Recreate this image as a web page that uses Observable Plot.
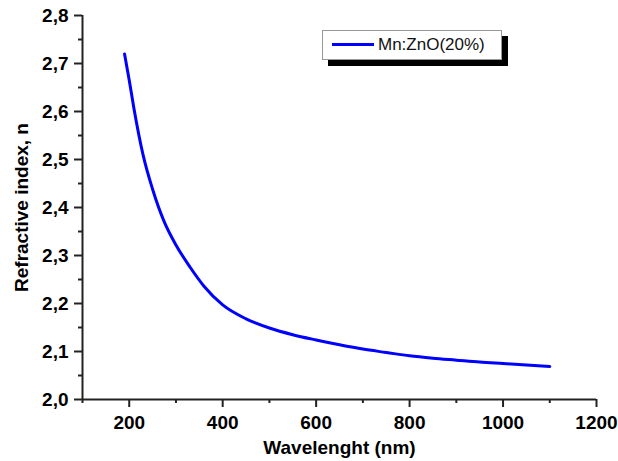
<!DOCTYPE html>
<html>
<head>
<meta charset="utf-8">
<script src="https://cdn.jsdelivr.net/npm/d3@7"></script>
<script src="https://cdn.jsdelivr.net/npm/@observablehq/plot@0.6"></script>
<style>
  html, body { margin: 0; padding: 0; background: #fff; }
  #wrap { position: relative; width: 618px; height: 461px; }
  .legend { position: absolute; left: 322px; top: 30px; width: 178px; height: 28px;
    background: #fff; border: 1px solid #999; box-shadow: 6px 6px 0 #000;
    font-family: "Liberation Sans", Arial, sans-serif; font-size: 17px; color: #111; }
  .legend .sw { position: absolute; left: 9px; top: 12px; width: 42px; height: 3px; background: #0000ff; }
  .legend .lb { position: absolute; left: 55px; top: 4px; }
</style>
</head>
<body>
<div id="wrap"></div>
<script>
const wavelength = [190, 200, 210, 230, 250, 275, 300, 330, 360, 400, 450, 500, 550, 600, 650, 700, 750, 800, 850, 900, 950, 1000, 1050, 1100];
const refractiveIndex = [2.72, 2.665, 2.607, 2.508, 2.438, 2.37, 2.322, 2.276, 2.236, 2.197, 2.168, 2.149, 2.135, 2.124, 2.114, 2.105, 2.098, 2.091, 2.086, 2.082, 2.078, 2.075, 2.072, 2.069];
const seriesName = "Mn:ZnO(20%)";
const xMajor = [200, 400, 600, 800, 1000, 1200];
const xMinor = [100, 300, 500, 700, 900, 1100];
const yMajor = [2.0, 2.1, 2.2, 2.3, 2.4, 2.5, 2.6, 2.7, 2.8];
const yMinor = [2.05, 2.15, 2.25, 2.35, 2.45, 2.55, 2.65, 2.75];

const data = wavelength.map((w, i) => ({w, n: refractiveIndex[i]}));
const axisColor = "#222";
const fmtY = d => d.toFixed(1).replace(".", ",");

const chart = Plot.plot({
  width: 618,
  height: 461,
  marginLeft: 82,
  marginRight: 22,
  marginTop: 15,
  marginBottom: 62,
  style: {fontFamily: "'Liberation Sans', Arial, sans-serif", fontSize: "18px", fontWeight: "bold", color: "#000", background: "#fff"},
  x: {domain: [100, 1200]},
  y: {domain: [2.0, 2.8]},
  marks: [
    Plot.axisX({ticks: xMajor, tickSize: 0, tickPadding: 16, tickFormat: d => String(d),
      label: "Wavelenght (nm)", labelAnchor: "center", labelArrow: "none", labelOffset: 54, fontSize: 19}),
    Plot.axisY({ticks: yMajor, tickSize: 0, tickPadding: 14, tickFormat: fmtY,
      label: "Refractive index, n", labelAnchor: "center", labelArrow: "none", labelOffset: 68, fontSize: 19}),
    Plot.tickX(xMajor, {x: d => d, stroke: axisColor, strokeWidth: 2, insetTop: 384, insetBottom: -8}),
    Plot.tickX(xMinor, {x: d => d, stroke: axisColor, strokeWidth: 2, insetTop: 384, insetBottom: -4}),
    Plot.tickY(yMajor, {y: d => d, stroke: axisColor, strokeWidth: 2, insetLeft: -8, insetRight: 514}),
    Plot.tickY(yMinor, {y: d => d, stroke: axisColor, strokeWidth: 2, insetLeft: -4, insetRight: 514}),
    Plot.ruleY([2.0], {stroke: axisColor, strokeWidth: 2}),
    Plot.ruleX([100], {stroke: axisColor, strokeWidth: 2}),
    Plot.line(data, {x: "w", y: "n", stroke: "#0000ff", strokeWidth: 3, curve: "monotone-x"})
  ]
});

const wrap = document.getElementById("wrap");
wrap.appendChild(chart);
const leg = document.createElement("div");
leg.className = "legend";
leg.innerHTML = `<div class="sw"></div><div class="lb"></div>`;
leg.querySelector(".lb").textContent = seriesName;
wrap.appendChild(leg);
</script>
</body>
</html>
